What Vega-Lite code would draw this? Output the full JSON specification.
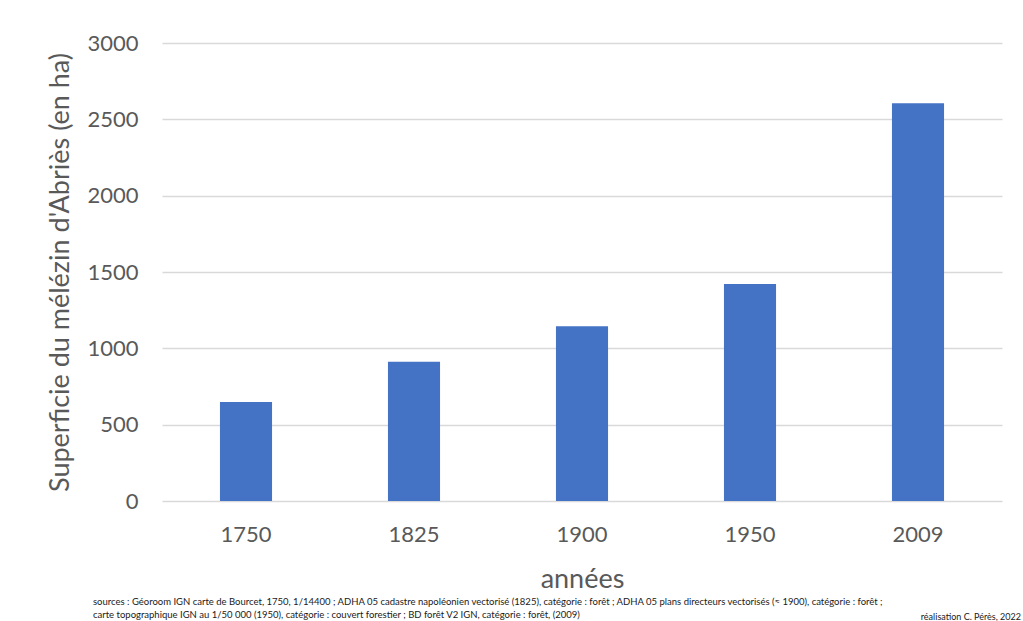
{
  "$schema": "https://vega.github.io/schema/vega-lite/v6.json",
  "autosize": {"type": "none"},
  "width": 840,
  "height": 458,
  "padding": {"left": 162, "top": 43, "right": 21, "bottom": 120},
  "background": "white",
  "config": {
    "view": {"stroke": null},
    "font": "Lato",
    "axis": {"labelFont": "Lato", "titleFont": "Lato", "labelColor": "#595959", "titleColor": "#595959", "titleFontWeight": "normal"}
  },
  "title": {
    "text": ["sources : Géoroom IGN carte de Bourcet, 1750, 1/14400 ; ADHA 05 cadastre napoléonien vectorisé (1825), catégorie : forêt ; ADHA 05 plans directeurs vectorisés (≈ 1900), catégorie : forêt ;", "carte topographique IGN au 1/50 000 (1950), catégorie : couvert forestier ; BD forêt V2 IGN, catégorie : forêt, (2009)"],
    "orient": "bottom",
    "anchor": "start",
    "frame": "group",
    "dx": -69,
    "offset": 0,
    "dy": -25,
    "baseline": "top",
    "fontSize": 9.5,
    "fontWeight": "normal",
    "font": "Lato",
    "color": "#1a1a1a",
    "lineHeight": 13
  },
  "data": {
    "values": [
      {"annee": "1750", "superficie": 648},
      {"annee": "1825", "superficie": 912},
      {"annee": "1900", "superficie": 1145},
      {"annee": "1950", "superficie": 1422},
      {"annee": "2009", "superficie": 2605}
    ]
  },
  "layer": [
    {
      "mark": {"type": "bar", "color": "#4472C4"},
      "encoding": {
        "x": {
          "field": "annee",
          "type": "nominal",
          "sort": null,
          "scale": {"paddingInner": 0.69, "paddingOuter": 0.345},
          "axis": {
            "title": "années",
            "titleFontSize": 27,
            "titlePadding": 21,
            "labelFontSize": 22,
            "labelPadding": 23,
            "labelAngle": 0,
            "ticks": false,
            "domain": false
          }
        },
        "y": {
          "field": "superficie",
          "type": "quantitative",
          "scale": {"domain": [0, 3000]},
          "axis": {
            "title": "Superficie du mélézin d'Abriès (en ha)",
            "titleFontSize": 27,
            "titlePadding": 12,
            "labelFontSize": 22,
            "labelPadding": 24,
            "format": "d",
            "values": [0, 500, 1000, 1500, 2000, 2500, 3000],
            "ticks": false,
            "domain": false,
            "grid": true,
            "gridColor": "#d9d9d9",
            "gridWidth": 1.3
          }
        }
      }
    },
    {
      "data": {"values": [{"note": "réalisation C. Pérès, 2022"}]},
      "mark": {"type": "text", "align": "right", "baseline": "middle", "fontSize": 9, "font": "Lato", "color": "#1a1a1a", "dx": 103, "dy": 116},
      "encoding": {
        "x": {"datum": "2009", "type": "nominal"},
        "y": {"datum": 0, "type": "quantitative"},
        "text": {"field": "note", "type": "nominal"}
      }
    }
  ]
}
